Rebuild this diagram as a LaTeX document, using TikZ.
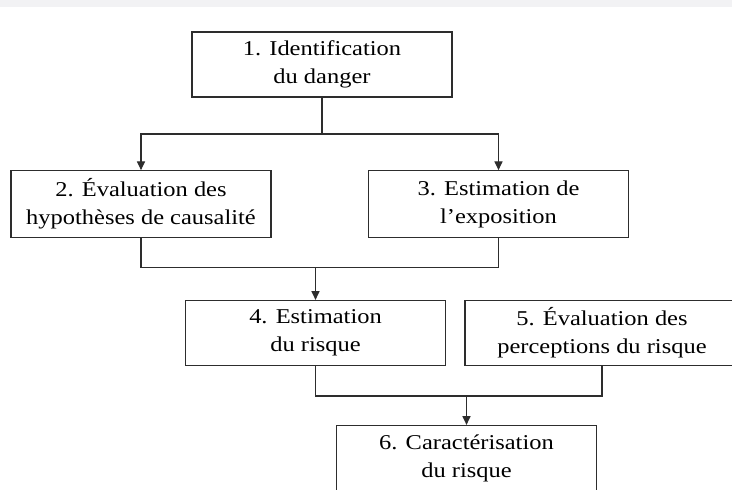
\documentclass[tikz,border=0pt]{standalone}
\usepackage{fontspec}
\setmainfont{Liberation Serif}[FakeStretch=1.16]
\usepackage{tikz}
\usetikzlibrary{positioning,arrows.meta}
\definecolor{bandgray}{RGB}{242,242,244}
\definecolor{linegray}{RGB}{45,45,45}

\begin{document}
\begin{tikzpicture}[
    etape/.style={draw=linegray, line width=0.7pt, minimum width=5.2cm, minimum height=1.3cm,
      align=center, inner sep=0pt, font=\fontsize{12}{16}\selectfont},
    lien/.style={draw=linegray, line width=0.65pt},
    fleche/.style={lien, -{Triangle[length=5pt,width=4.6pt]}}]
  \useasboundingbox (0,0) rectangle (14.64,-9.78);
  \clip (0,0) rectangle (14.64,-9.78);
  \fill[bandgray] (0,0) rectangle (14.64,-0.14);
  \node[etape] (ident) at (6.44,-1.29) {1. Identification\\du danger};
  \node[etape, minimum height=1.33cm] (causal) at (2.82,-4.08) {2. Évaluation des\\hypothèses de causalité};
  \node[etape, minimum height=1.33cm] (expo) at (9.97,-4.08) {3. Estimation de\\l’exposition};
  \node[etape] (estim) at (6.31,-6.66) {4. Estimation\\du risque};
  \node[etape, minimum width=5.48cm] (percep) at (12.04,-6.66) {5. Évaluation des\\perceptions du risque};
  \node[etape] (caract) at (9.33,-9.16) {6. Caractérisation\\du risque};
  \coordinate (j1) at (6.44,-2.68);
  \coordinate (j2) at (6.31,-5.35);
  \coordinate (j3) at (9.33,-7.92);
  \draw[lien] (ident.south) -- (j1);
  \draw[fleche] (j1) -| (causal.north);
  \draw[fleche] (j1) -| (expo.north);
  \draw[lien] (causal.south) |- (j2) -| (expo.south);
  \draw[fleche] (j2) -- (estim.north);
  \draw[lien] (estim.south) |- (j3) -| (percep.south);
  \draw[fleche] (j3) -- (caract.north);
\end{tikzpicture}
\end{document}
